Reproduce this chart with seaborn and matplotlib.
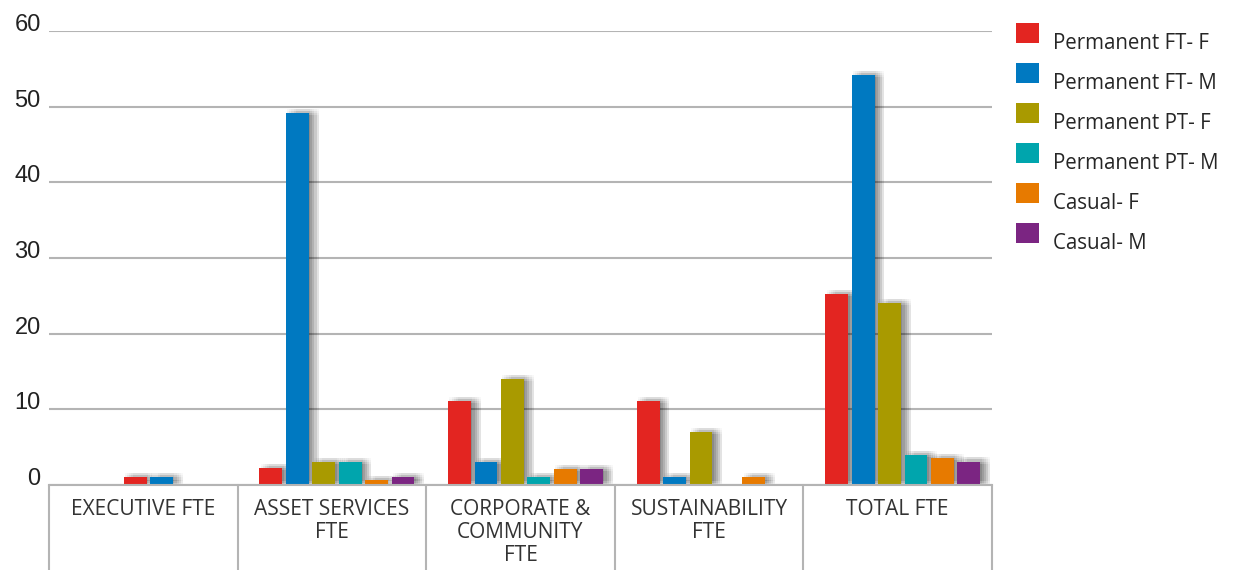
import matplotlib
matplotlib.use("Agg")
import matplotlib.pyplot as plt
import matplotlib.patheffects as pe
from matplotlib.transforms import blended_transform_factory
import seaborn as sns
import pandas as pd

categories = ["EXECUTIVE FTE", "ASSET SERVICES\nFTE", "CORPORATE &\nCOMMUNITY\nFTE",
              "SUSTAINABILITY\nFTE", "TOTAL FTE"]
series = ["Permanent FT- F", "Permanent FT- M", "Permanent PT- F",
          "Permanent PT- M", "Casual- F", "Casual- M"]
perm_ft_f = [1.0, 2.2, 11.1, 11.1, 25.2]
perm_ft_m = [1.0, 49.2, 3.0, 1.0, 54.2]
perm_pt_f = [None, 3.0, 14.0, 7.0, 24.0]
perm_pt_m = [None, 3.0, 1.0, 0.0, 4.0]
casual_f = [None, 0.6, 2.1, 1.0, 3.6]
casual_m = [None, 1.1, 2.1, 0.0, 3.1]
yticks = [0, 10, 20, 30, 40, 50, 60]
colors = ["#E32521", "#0079C1", "#A99A00", "#00A5AD", "#E77A00", "#7B2582"]

values = [perm_ft_f, perm_ft_m, perm_pt_f, perm_pt_m, casual_f, casual_m]
rows = []
for s, vals in zip(series, values):
    for c, v in zip(categories, vals):
        if v is not None:
            rows.append({"category": c, "series": s, "value": v})
df = pd.DataFrame(rows)

# categories where every series has a value keep fixed slots; the others are centred
full_cats = [c for c in categories if (df["category"] == c).sum() == len(series)]
part_cats = [c for c in categories if c not in full_cats]

sns.set_style("white")
fig = plt.figure(figsize=(12.35, 5.7), dpi=100)
ax = fig.add_axes([49 / 1235, 1 - 485 / 570, (992 - 49) / 1235, (485 - 31) / 570])

GROUP_W = 0.84
sns.barplot(data=df[df["category"].isin(full_cats)], x="category", y="value",
            hue="series", order=categories, hue_order=series, palette=colors,
            saturation=1, width=GROUP_W, gap=0.13, ax=ax, errorbar=None)
for c in part_cats:
    sub = df[df["category"] == c]
    present = [s for s in series if s in set(sub["series"])]
    sns.barplot(data=sub, x="category", y="value", hue="series", order=categories,
                hue_order=present,
                palette=[colors[series.index(s)] for s in present],
                saturation=1, width=GROUP_W * len(present) / len(series), gap=0.13,
                ax=ax, errorbar=None, legend=False)

glow = [pe.SimplePatchShadow(offset=(dx, dy), shadow_rgbFace="#000000", alpha=0.028)
        for dx in (1, 2.5, 4, 5.5, 7) for dy in (-1.5, 0, 1.5, 3)]
for cont in ax.containers:
    for p in cont.patches:
        p.set_linewidth(0)
        p.set_zorder(3)
        if p.get_height() > 0:
            p.set_path_effects(glow + [pe.Normal()])
        else:
            p.set_visible(False)

off = 0.027
ax.set_ylim(0, 60)
ax.set_xlim(-0.5 - off, 4.5 - off)
ax.set_yticks(yticks)
ax.set_yticklabels([str(t) for t in yticks], fontsize=17, family="Liberation Sans",
                   color="#222222")
for lab in ax.get_yticklabels():
    lab.set_verticalalignment("baseline")
ax.tick_params(axis="y", length=0, pad=6)
ax.tick_params(axis="x", length=0, pad=10)
ax.set_xticks([i - off for i in range(len(categories))])
ax.set_xticklabels(categories, fontsize=15, family="Open Sans", color="#333333",
                   linespacing=1.12)
ax.set_xlabel("")
ax.set_ylabel("")

ax.yaxis.grid(True, color="#B4B4B4", linewidth=1.5)
ax.set_axisbelow(True)
for side in ["top", "right", "left"]:
    ax.spines[side].set_visible(False)
ax.spines["bottom"].set_color("#B4B4B4")
ax.spines["bottom"].set_linewidth(1.5)
ax.spines["bottom"].set_zorder(4)

trans = blended_transform_factory(ax.transData, ax.transAxes)
for k in range(len(categories) + 1):
    xb = k - 0.5 - off
    ax.plot([xb, xb], [0, -0.3], transform=trans, color="#B4B4B4", lw=1.5,
            clip_on=False)

handles, labels = ax.get_legend_handles_labels()
leg = ax.legend(handles[:len(series)], labels[:len(series)], loc="upper left",
                bbox_to_anchor=(1016 / 1235, 1 - 32 / 570),
                bbox_transform=fig.transFigure, frameon=False,
                prop={"family": "Open Sans", "size": 14.8},
                handlelength=1.12, handleheight=1.12, handletextpad=0.7,
                labelspacing=0.88, borderaxespad=0, borderpad=0)
for h in leg.legend_handles:
    h.set_visible(True)
    h.set_linewidth(0)
    h.set_path_effects([])
    h.set_y(h.get_y() + 6.5)

fig.savefig("out.png", dpi=100)
